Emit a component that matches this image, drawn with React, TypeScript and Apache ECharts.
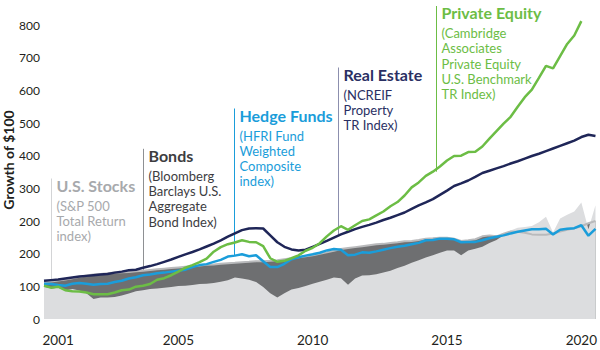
import React, { useEffect, useRef } from "react";
import * as echarts from "echarts";

// Quarterly observations, Dec 2000 (2000 Q4) through Jun 2020 (2020 Q2)
const firstYear = 2000;
const firstQuarter = 4;
const quarterCount = 79;
const quarters: string[] = [];
for (let i = 0; i < quarterCount; i++) {
  const q = firstQuarter - 1 + i;
  quarters.push(`${firstYear + Math.floor(q / 4)} Q${(q % 4) + 1}`);
}

// Values in the chart's own axis units (growth of $100)
const stocks = [
  99, 93, 96, 87, 92, 87, 79, 61, 66, 66,
  67, 72, 78, 85, 88, 92, 93, 96, 98, 101,
  102, 104, 107, 108, 110, 114, 119, 127, 124, 120,
  113, 98, 79, 66, 79, 90, 95, 101, 108, 114,
  120, 127, 125, 105, 124, 133, 134, 137, 142, 148,
  156, 163, 172, 180, 188, 195, 203, 210, 210, 195,
  210, 215, 221, 233, 242, 256, 271, 279, 282, 285,
  296, 313, 265, 308, 319, 329, 357, 275, 348,
];
const bonds = [
  113, 115, 118, 121, 125, 129, 133, 136, 138, 140,
  142, 143, 144, 146, 148, 150, 152, 154, 156, 158,
  160, 162, 164, 166, 167, 169, 171, 172, 174, 175,
  177, 177, 178, 180, 183, 186, 189, 192, 195, 200,
  204, 209, 214, 217, 220, 223, 226, 229, 230, 233,
  235, 238, 239, 242, 246, 247, 249, 249, 246, 239,
  241, 244, 253, 256, 253, 261, 268, 267, 264, 259,
  258, 258, 262, 268, 273, 278, 284, 293, 300,
];
const hedgeFunds = [
  108, 107, 104, 102, 108, 110, 108, 105, 107, 108,
  113, 117, 124, 128, 134, 136, 140, 142, 145, 148,
  151, 159, 165, 168, 175, 181, 191, 194, 198, 192,
  195, 177, 159, 159, 169, 183, 189, 194, 198, 203,
  210, 214, 212, 195, 197, 204, 203, 207, 212, 217,
  221, 224, 229, 233, 241, 242, 246, 246, 244, 235,
  236, 236, 241, 247, 252, 256, 262, 267, 271, 275,
  275, 276, 259, 273, 276, 278, 287, 255, 276,
];
const realEstate = [
  117, 119, 121, 124, 127, 130, 132, 134, 136, 138,
  142, 145, 149, 151, 157, 162, 168, 175, 182, 190,
  198, 205, 213, 222, 231, 241, 252, 262, 272, 277,
  278, 277, 256, 235, 221, 213, 210, 212, 221, 230,
  239, 249, 259, 267, 275, 282, 288, 295, 303, 310,
  318, 326, 337, 348, 357, 367, 380, 393, 407, 415,
  424, 435, 447, 454, 461, 468, 476, 483, 491, 499,
  506, 514, 522, 530, 538, 546, 557, 564, 560,
];
const privateEquity = [
  102, 96, 99, 88, 85, 84, 81, 76, 76, 76,
  81, 88, 90, 99, 102, 107, 120, 125, 134, 145,
  157, 165, 174, 185, 206, 220, 229, 234, 241, 236,
  235, 223, 186, 175, 178, 186, 195, 209, 218, 232,
  253, 271, 284, 273, 287, 300, 305, 317, 329, 345,
  358, 378, 403, 418, 438, 451, 467, 485, 499, 500,
  511, 512, 528, 552, 575, 598, 619, 650, 679, 702,
  738, 775, 767, 805, 842, 868, 912,
];

const yTickLabels = ["0", "100", "200", "200", "300", "400", "500", "600", "700", "800"];
const xTickIndex = [2, 19, 38, 57, 76];
const xTickLabels = ["2001", "2005", "2010", "2015", "2020"];

const annoTitles = ["U.S. Stocks", "Bonds", "Hedge Funds", "Real Estate", "Private Equity"];
const annoSubs = [
  ["(S&P 500", "Total Return", "index)"],
  ["(Bloomberg", "Barclays U.S.", "Aggregate", "Bond Index)"],
  ["(HFRI Fund", "Weighted", "Composite", "index)"],
  ["(NCREIF", "Property", "TR Index)"],
  ["(Cambridge", "Associates", "Private Equity", "U.S. Benchmark", "TR Index)"],
];

const FONT = "Lato, 'Open Sans', sans-serif";
const C_STOCK_AREA = "#dcdddf";
const C_BOND_AREA = "#6e6f71";
const C_BOND_LINE = "#b9babc";
const C_HF = "#1a9dda";
const C_RE = "#1f2658";
const C_PE = "#6cbd45";

export default function App() {
  const ref = useRef<HTMLDivElement>(null);

  useEffect(() => {
    if (!ref.current) return;
    const chart = echarts.init(ref.current, null, { renderer: "svg" });
    chart.setOption({
      animation: false,
      grid: { left: 44, right: 3, top: 25, bottom: 31 },
      xAxis: {
        type: "category",
        data: quarters,
        boundaryGap: false,
        axisLine: { show: false },
        axisTick: { show: false },
        splitLine: { show: false },
        axisLabel: {
          interval: (idx: number) => xTickIndex.includes(idx),
          formatter: (_v: string, idx: number) => {
            const k = xTickIndex.indexOf(idx);
            return k >= 0 ? xTickLabels[k] : "";
          },
          color: "#231f20",
          fontFamily: FONT,
          fontSize: 13.5,
          margin: 21,
          verticalAlign: "middle",
        },
      },
      yAxis: {
        type: "value",
        min: 0,
        max: 900,
        interval: 100,
        axisLine: { show: false },
        axisTick: { show: false },
        splitLine: { show: false },
        axisLabel: {
          formatter: (v: number) => yTickLabels[Math.round(v / 100)] ?? "",
          color: "#231f20",
          fontFamily: FONT,
          fontSize: 12,
          margin: 4,
        },
      },
      series: [
        {
          name: "Bonds area",
          type: "line",
          data: bonds,
          showSymbol: false,
          lineStyle: { width: 0 },
          areaStyle: { color: C_BOND_AREA, opacity: 1 },
          silent: true,
        },
        {
          name: "U.S. Stocks",
          type: "line",
          data: stocks,
          showSymbol: false,
          lineStyle: { width: 0 },
          areaStyle: { color: C_STOCK_AREA, opacity: 1 },
          silent: true,
        },
        {
          name: "Bonds",
          type: "line",
          data: bonds,
          showSymbol: false,
          lineStyle: { width: 2, color: C_BOND_LINE },
          silent: true,
        },
        {
          name: "Hedge Funds",
          type: "line",
          data: hedgeFunds,
          showSymbol: false,
          lineStyle: { width: 2.5, color: C_HF },
        },
        {
          name: "Real Estate",
          type: "line",
          data: realEstate,
          showSymbol: false,
          lineStyle: { width: 2.5, color: C_RE },
        },
        {
          name: "Private Equity",
          type: "line",
          data: privateEquity,
          showSymbol: false,
          clip: false,
          lineStyle: { width: 2.5, color: C_PE },
        },
      ],
    });

    // Annotation layout (pixel placement of callouts)
    const annoAnchor = [1, 14, 26.85, 41.65, 55.47];
    const annoTitleY = [185, 155.3, 115, 74, 12.5];
    const annoEnd = [0, bonds[14], hedgeFunds[27], realEstate[42], privateEquity[55]];
    const annoTitleColor = ["#a7a9ac", "#3d3d3f", C_HF, "#2a2f63", C_PE];
    const annoSubColor = ["#a7a9ac", "#3d3d3f", C_HF, "#2a2f63", C_PE];
    const annoLineColor = ["#d3d4d6", "#8e9093", C_HF, "#8c8fae", C_PE];

    const p0 = chart.convertToPixel({ gridIndex: 0 }, [0, 0]) as number[];
    const p1 = chart.convertToPixel({ gridIndex: 0 }, [quarters.length - 1, 0]) as number[];
    const xAt = (idx: number) => p0[0] + ((p1[0] - p0[0]) * idx) / (quarters.length - 1);
    const yAt = (v: number) => (chart.convertToPixel({ gridIndex: 0 }, [0, v]) as number[])[1];

    const elements: any[] = [
      {
        type: "text",
        x: 8,
        y: 160,
        rotation: Math.PI / 2,
        style: {
          text: "Growth of $100",
          fill: "#231f20",
          fontFamily: FONT,
          fontWeight: "bold",
          fontSize: 14,
          align: "center",
          verticalAlign: "middle",
        },
      },
    ];
    annoTitles.forEach((title, k) => {
      const lx = Math.round(xAt(annoAnchor[k])) + 0.5;
      const ty = annoTitleY[k];
      elements.push({
        type: "line",
        shape: { x1: lx, y1: ty - 6.5, x2: lx, y2: yAt(annoEnd[k]) },
        style: { stroke: annoLineColor[k], lineWidth: 1 },
      });
      elements.push({
        type: "text",
        x: lx + 5,
        y: ty,
        style: {
          text: title,
          fill: annoTitleColor[k],
          fontFamily: FONT,
          fontWeight: "bold",
          fontSize: 16,
          align: "left",
          verticalAlign: "middle",
        },
      });
      elements.push({
        type: "text",
        x: lx + 5,
        y: ty + 20.5 - 7.65,
        style: {
          text: annoSubs[k].join("\n"),
          fill: annoSubColor[k],
          fontFamily: FONT,
          fontSize: 13,
          lineHeight: 15.3,
          align: "left",
          verticalAlign: "top",
        },
      });
    });
    chart.setOption({ graphic: { elements } });

    return () => chart.dispose();
  }, []);

  return (
    <div
      ref={ref}
      style={{ position: "fixed", left: 0, top: 0, width: 600, height: 350, background: "#fff" }}
    />
  );
}
